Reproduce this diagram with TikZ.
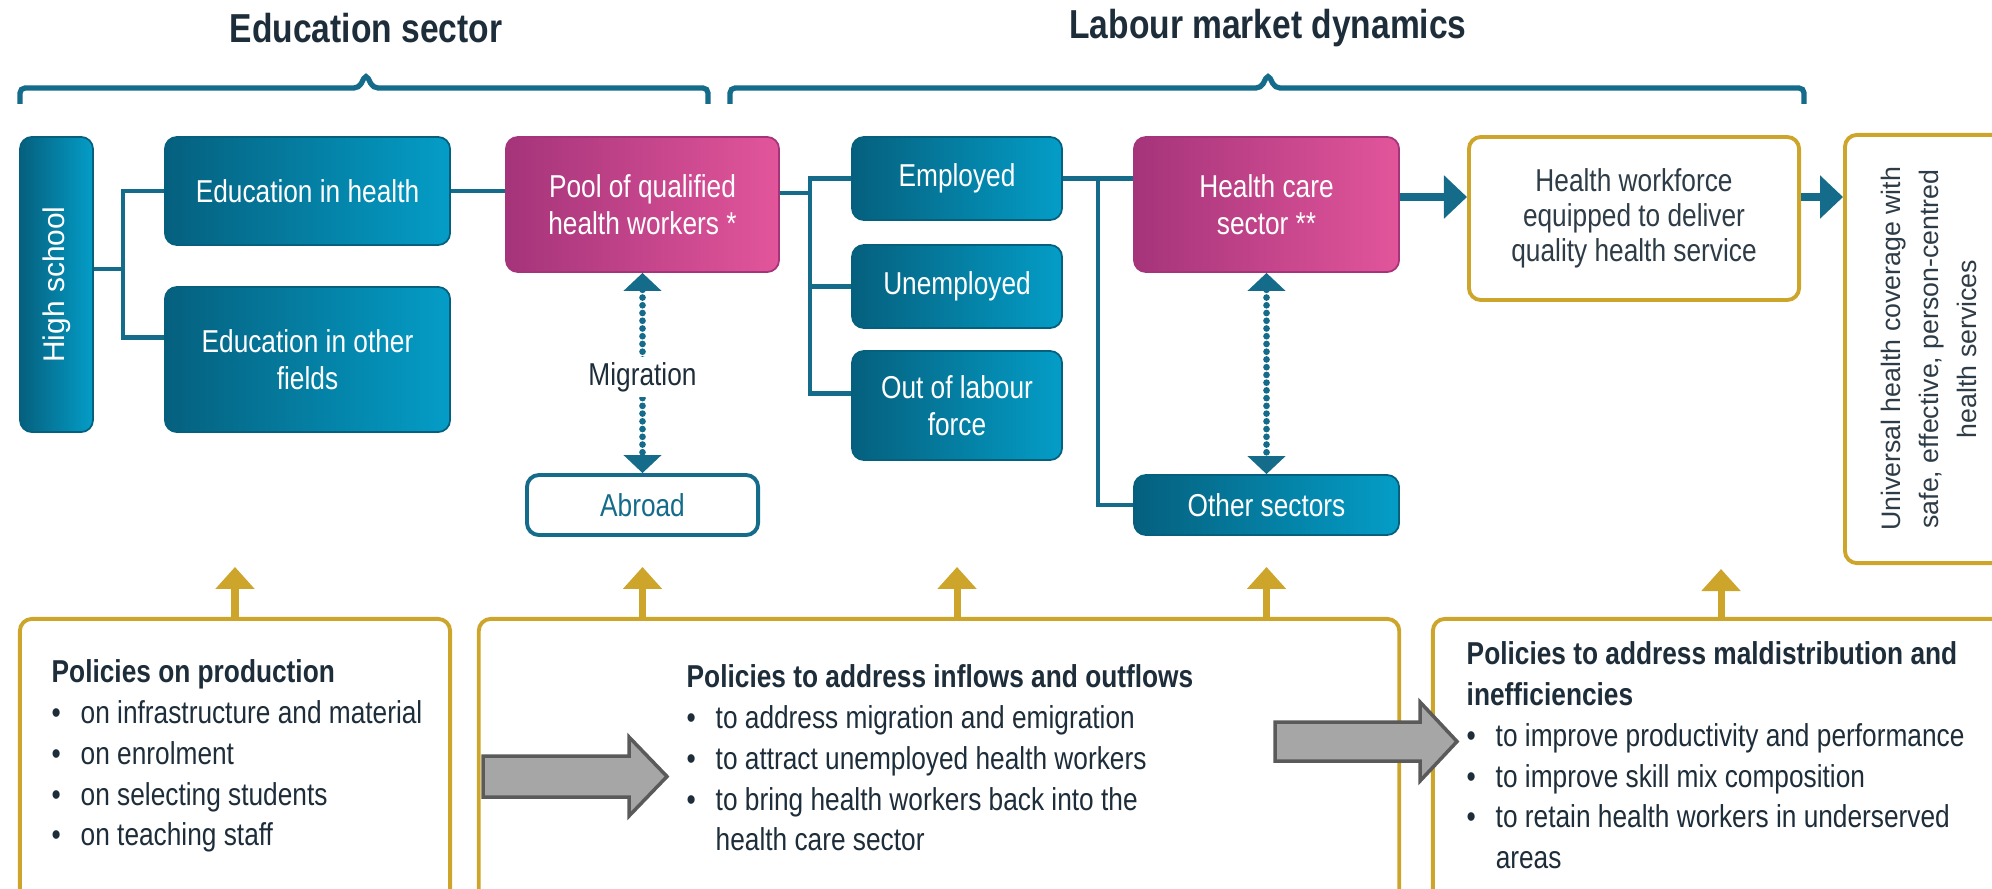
\documentclass[tikz,border=0pt]{standalone}
\usepackage{fontspec}
\setmainfont{Liberation Sans}[FakeStretch=0.83]
\newfontfamily\widesans{Liberation Sans}
\usetikzlibrary{arrows.meta}

\definecolor{tealdark}{HTML}{05607E}
\definecolor{teallight}{HTML}{049DC7}
\definecolor{tealline}{HTML}{146C8A}
\definecolor{magdark}{HTML}{A5347A}
\definecolor{maglight}{HTML}{E2559B}
\definecolor{goldline}{HTML}{CEA52B}
\definecolor{inkdark}{HTML}{1E2D3A}
\definecolor{inkgray}{HTML}{2E3C47}
\definecolor{arrowgray}{HTML}{A6A6A6}
\definecolor{arrowedge}{HTML}{5A5A5A}

\newcommand{\polbullet}{\makebox[0.29cm][l]{\textbullet}}
\newcommand{\polindent}{\hspace*{0.29cm}}

\tikzset{
  title/.style={font=\fontsize{11.5}{13}\selectfont\bfseries, text=inkdark},
  brace/.style={draw=tealline, line width=1.5pt, rounded corners=0.05cm},
  tealbox/.style={rounded corners=1.2mm, left color=tealdark, right color=teallight,
    draw=tealdark, line width=0.5pt, text=white, align=center, inner sep=0pt,
    font=\fontsize{9}{10.5}\selectfont},
  magbox/.style={tealbox, left color=magdark, right color=maglight, draw=magdark},
  goldbox/.style={rounded corners=1.2mm, draw=goldline, line width=1.1pt, fill=white,
    align=center, inner sep=0pt, font=\fontsize{9}{10}\selectfont},
  outlinebox/.style={rounded corners=1.2mm, draw=tealline, line width=1.1pt, fill=white,
    text=tealline, inner sep=0pt, font=\fontsize{9}{10.5}\selectfont},
  poltext/.style={anchor=north west, align=left, inner sep=0pt, text=inkdark,
    font=\fontsize{9}{11.6}\selectfont},
  link/.style={draw=tealline, line width=1.2pt},
  bigarrow/.style={draw=tealline, line width=2.4pt, -{Triangle[length=0.23cm,width=0.42cm]}},
  dotarrow/.style={draw=tealline, line width=1.9pt, line cap=round, dash pattern=on 0pt off 2.2pt,
    {Triangle[length=0.18cm,width=0.37cm]}-{Triangle[length=0.18cm,width=0.37cm]}},
  goldup/.style={draw=goldline, line width=2pt, -{Triangle[length=0.22cm,width=0.38cm]}},
  blockarrow/.style={fill=arrowgray, draw=arrowedge, line width=1pt},
  migr/.style={fill=white, inner sep=1.5pt, text=inkdark, font=\fontsize{9}{10}\selectfont}
}

\begin{document}
\begin{tikzpicture}[x=0.01cm,y=-0.01cm]
  \useasboundingbox (0,0) rectangle (1992,888);
  \clip (0,0) rectangle (1992,888);

  % Titles and braces
  \node[title] (edtitle) at (366,28) {Education sector};
  \node[title] (lmtitle) at (1268,28) {Labour market dynamics};
  \draw[brace] (20,104) -- (20,88) -- (359,88) -- (366,74) -- (373,88) -- (708,88) -- (708,104);
  \draw[brace] (730,104) -- (730,88) -- (1261,88) -- (1268,74) -- (1275,88) -- (1804,88) -- (1804,104);

  % Education sector
  \node[tealbox, rotate=90, minimum width=2.95cm, minimum height=0.73cm,
    font=\widesans\fontsize{8.5}{10}\selectfont] (hs) at (56.5,284.5) {High school};
  \node[tealbox, minimum width=2.85cm, minimum height=1.08cm] (edh) at (307.5,191) {Education in health};
  \node[tealbox, minimum width=2.85cm, minimum height=1.45cm] (edo) at (307.5,359.5) {Education in other\\fields};
  \node[magbox, minimum width=2.73cm, minimum height=1.35cm] (pool) at (642.5,204.5) {Pool of qualified\\health workers *};
  \node[outlinebox, minimum width=2.31cm, minimum height=0.6cm] (abr) at (642.5,505) {Abroad};

  % Labour market
  \node[tealbox, minimum width=2.1cm, minimum height=0.83cm] (emp) at (957,178.5) {Employed};
  \node[tealbox, minimum width=2.1cm, minimum height=0.83cm] (unemp) at (957,286.5) {Unemployed};
  \node[tealbox, minimum width=2.1cm, minimum height=1.09cm] (olf) at (957,405.5) {Out of labour\\force};
  \node[magbox, minimum width=2.65cm, minimum height=1.35cm] (hcs) at (1266.5,204.5) {Health care\\sector **};
  \node[tealbox, minimum width=2.65cm, minimum height=0.6cm] (oth) at (1266.5,505) {Other sectors};

  % Outcomes
  \node[goldbox, minimum width=3.3cm, minimum height=1.63cm, text=inkgray] (hwf) at (1634,218.5)
    {Health workforce\\equipped to deliver\\quality health service};
  \node[goldbox, rotate=90, minimum width=4.28cm, minimum height=1.68cm, text=inkgray,
    font=\widesans\fontsize{7.6}{10.8}\selectfont] (uhc) at (1929,349)
    {Universal health coverage with\\safe, effective, person-centred\\health services};

  % Links
  \coordinate (j1) at (123,269);
  \coordinate (j2) at (810,193);
  \coordinate (j3) at (1098,178.5);
  \coordinate (flow) at (1430,197);
  \draw[link] (hs.south |- j1) -- (j1);
  \draw[link] (edh.west) -| (j1) |- ([yshift=0.22cm]edo.west);
  \draw[link] (edh.east) -- (edh.east -| pool.west);
  \draw[link] (pool.east |- j2) -- (j2);
  \draw[link] (emp.west) -| (j2) |- ([yshift=0.12cm]olf.west);
  \draw[link] (unemp.west) -- (unemp.west -| j2);
  \draw[link] (emp.east) -- (emp.east -| hcs.west);
  \draw[link] (j3) |- (oth.west);
  \draw[bigarrow] (hcs.east |- flow) -- (hwf.west |- flow);
  \draw[bigarrow] (hwf.east |- flow) -- (uhc.north |- flow);
  \draw[dotarrow] (pool.south) -- (abr.north) node[migr, pos=0.52] (mig) {Migration};
  \draw[dotarrow] (hcs.south) -- (oth.north);

  % Policy boxes
  \node[goldbox, minimum width=4.3cm, minimum height=3.31cm] (pol1) at (235,784.5) {};
  \node[goldbox, minimum width=9.2cm, minimum height=3.31cm] (pol2) at (939,784.5) {};
  \node[goldbox, minimum width=6.17cm, minimum height=3.31cm] (pol3) at (1741.5,784.5) {};
  \coordinate (p3up) at (1721,619);
  \draw[goldup] (pol1.north) -- ++(0,-50);
  \draw[goldup] (pool |- pol2.north) -- ++(0,-50);
  \draw[goldup] (emp |- pol2.north) -- ++(0,-50);
  \draw[goldup] (hcs |- pol2.north) -- ++(0,-50);
  \draw[goldup] (p3up) -- ++(0,-50);

  \node[poltext] (pol1text) at (51,659) {\textbf{Policies on production}\\
    \polbullet on infrastructure and material\\
    \polbullet on enrolment\\
    \polbullet on selecting students\\
    \polbullet on teaching staff};
  \node[poltext] (pol2text) at (686,664) {\textbf{Policies to address inflows and outflows}\\
    \polbullet to address migration and emigration\\
    \polbullet to attract unemployed health workers\\
    \polbullet to bring health workers back into the\\
    \polindent health care sector};
  \node[poltext] (pol3text) at (1466,641) {\textbf{Policies to address maldistribution and}\\
    \textbf{inefficiencies}\\
    \polbullet to improve productivity and performance\\
    \polbullet to improve skill mix composition\\
    \polbullet to retain health workers in underserved\\
    \polindent areas};

  % Grey block arrows
  \draw[blockarrow] (483,756) -- (629,756) -- (629,737) -- (667,776.5) -- (629,816) -- (629,797) -- (483,797) -- cycle;
  \draw[blockarrow] (1275,722) -- (1420,722) -- (1420,702) -- (1457,741.5) -- (1420,781) -- (1420,761) -- (1275,761) -- cycle;
\end{tikzpicture}
\end{document}
